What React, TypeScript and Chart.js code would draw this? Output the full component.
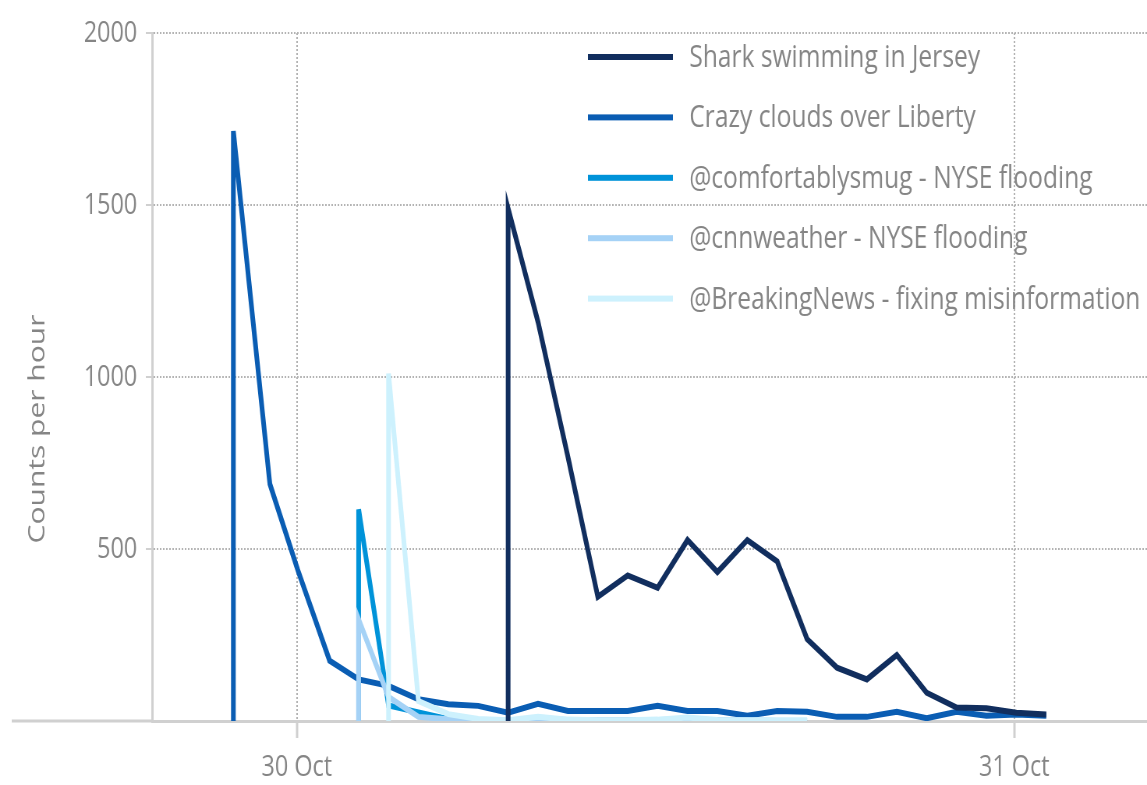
import React, { useEffect, useRef } from 'react';
import { Chart, registerables } from 'chart.js';

Chart.register(...registerables);

// ---- page geometry (the original picture is horizontally squeezed) ----
const FULL_W = 1147;
const FULL_H = 785;
const INNER_W = 1471;
const SQUEEZE = FULL_W / INNER_W;

const FONT = '"Open Sans", "DejaVu Sans", sans-serif';
const TEXT_COLOR = '#858585';
const AXIS_COLOR = '#d0d0d0';
const GRID_COLOR = '#b3b3b3';

// ---- data ----
const seriesNames = [
  'Shark swimming in Jersey',
  'Crazy clouds over Liberty',
  '@comfortablysmug - NYSE flooding',
  '@cnnweather - NYSE flooding',
  '@BreakingNews - fixing misinformation',
];
const seriesColors = ['#112e5e', '#0a5db3', '#0093d9', '#a5d2f6', '#cdf1fd'];

// hours since 30 Oct 00:00
const sharkHours = [7.07, 7.07, 8.07, 9.07, 10.07, 11.07, 12.07, 13.07, 14.07, 15.07, 16.07, 17.07, 18.07, 19.07, 20.07, 21.07, 22.07, 23.07, 24.07, 25.07];
const sharkCounts = [0, 1490, 1160, 768, 361, 423, 387, 526, 433, 526, 464, 238, 155, 121, 192, 82, 39, 37, 24, 19];

const cloudsHours = [-2.12, -2.12, -0.9, 0.03, 1.1, 2.07, 3.07, 4.07, 5.07, 6.07, 7.07, 8.07, 9.07, 10.07, 11.07, 12.07, 13.07, 14.07, 15.07, 16.07, 17.07, 18.07, 19.07, 20.07, 21.07, 22.07, 23.07, 24.07, 25.07];
const cloudsCounts = [0, 1715, 689, 440, 175, 121, 102, 63, 49, 44, 24, 50, 29, 29, 29, 44, 29, 29, 15, 29, 27, 12, 12, 27, 8, 27, 15, 19, 15];

const smugHours = [2.07, 2.07, 3.07, 4.07, 5.07, 6.07, 7.07, 8.07, 9.07, 10.07, 11.07, 12.07, 13.07, 14.07, 15.07, 16.07, 17.07];
const smugCounts = [0, 615, 45, 25, 5, 2, 0, 5, 2, 1, 1, 2, 3, 1, 1, 0, 0];

const cnnHours = [2.07, 2.07, 3.07, 4.07, 5.07, 6.07, 7.07, 8.07, 9.07, 10.07, 11.07, 12.07, 13.07, 14.07, 15.07, 16.07, 17.07];
const cnnCounts = [0, 295, 70, 12, 5, 2, 0, 8, 3, 2, 2, 3, 5, 2, 2, 0, 0];

const newsHours = [3.07, 3.07, 4.07, 5.07, 6.07, 7.07, 8.07, 9.07, 10.07, 11.07, 12.07, 13.07, 14.07, 15.07, 16.07, 17.07];
const newsCounts = [0, 1010, 58, 20, 6, 2, 12, 4, 2, 2, 4, 10, 3, 2, 2, 2];

const seriesHours = [sharkHours, cloudsHours, smugHours, cnnHours, newsHours];
const seriesCounts = [sharkCounts, cloudsCounts, smugCounts, cnnCounts, newsCounts];
const drawOrder = [0, 4, 3, 2, 1];

const xTickHours = [0, 24];
const xTickLabels = ['30 Oct', '31 Oct'];
const xMin = -4.84;
const xMax = 28.44;
const yMin = 0;
const yMax = 2000;
const yStep = 500;
const yTitle = 'Counts per hour';

// ---- plugins ----
const axisExtension = {
  id: 'axisExtension',
  beforeDatasetsDraw(chart: any) {
    const { ctx, chartArea, scales } = chart;
    const y = scales.y.getPixelForValue(0);
    ctx.save();
    ctx.strokeStyle = AXIS_COLOR;
    ctx.lineWidth = 3;
    ctx.beginPath();
    ctx.moveTo(15, y);
    ctx.lineTo(chartArea.left, y);
    ctx.stroke();
    ctx.restore();
  },
};

const yTitlePlugin = {
  id: 'yTitlePlugin',
  afterDraw(chart: any) {
    const { ctx } = chart;
    ctx.save();
    ctx.translate(48, 429);
    ctx.rotate(-Math.PI / 2);
    ctx.font = `30px ${FONT}`;
    ctx.fillStyle = TEXT_COLOR;
    ctx.textAlign = 'center';
    ctx.textBaseline = 'middle';
    ctx.fillText(yTitle, 0, 0);
    ctx.restore();
  },
};

const legendPlugin = {
  id: 'sideLegend',
  afterDatasetsDraw(chart: any) {
    const { ctx } = chart;
    ctx.save();
    chart.data.datasets.forEach((ds: any, i: number) => {
      const y = 57 + i * 60.4;
      ctx.fillStyle = ds.borderColor;
      ctx.fillRect(754, y - 3, 109, 6);
      ctx.font = `31.5px ${FONT}`;
      ctx.fillStyle = TEXT_COLOR;
      ctx.textAlign = 'left';
      ctx.textBaseline = 'middle';
      ctx.fillText(ds.label, 884, y + 1);
    });
    ctx.restore();
  },
};

export default function App() {
  const canvasRef = useRef<HTMLCanvasElement | null>(null);

  useEffect(() => {
    if (!canvasRef.current) return;
    const datasets = seriesNames.map((name, i) => ({
      label: name,
      data: seriesHours[i].map((h, j) => ({ x: h, y: seriesCounts[i][j] })),
      borderColor: seriesColors[i],
      backgroundColor: seriesColors[i],
      borderWidth: 6,
      pointRadius: 0,
      tension: 0,
      fill: false,
      order: drawOrder[i],
    }));

    const chart = new Chart(canvasRef.current, {
      type: 'line',
      data: { datasets },
      options: {
        animation: false,
        responsive: false,
        maintainAspectRatio: false,
        devicePixelRatio: 1,
        layout: { padding: { top: 33, left: 0, right: 0, bottom: 0 } },
        plugins: {
          legend: { display: false },
          tooltip: { enabled: false },
        },
        scales: {
          x: {
            type: 'linear',
            min: xMin,
            max: xMax,
            afterBuildTicks: (scale: any) => {
              scale.ticks = xTickHours.map((v) => ({ value: v }));
            },
            afterFit: (scale: any) => {
              scale.height = 64;
            },
            ticks: {
              autoSkip: false,
              maxRotation: 0,
              padding: 11,
              color: TEXT_COLOR,
              font: { family: FONT, size: 30 },
              callback: (v: any) => {
                const idx = xTickHours.indexOf(Number(v));
                return idx >= 0 ? xTickLabels[idx] : '';
              },
            },
            grid: {
              color: GRID_COLOR,
              lineWidth: 2,
              tickLength: 17,
              tickColor: AXIS_COLOR,
              tickWidth: 3,
            },
            border: { display: true, color: AXIS_COLOR, width: 3, dash: [2, 2] },
          },
          y: {
            min: yMin,
            max: yMax,
            afterFit: (scale: any) => {
              scale.width = 195;
            },
            ticks: {
              stepSize: yStep,
              padding: 11,
              color: TEXT_COLOR,
              font: { family: FONT, size: 30 },
              callback: (v: any) => (Number(v) === 0 ? '' : String(v)),
            },
            grid: {
              color: (c: any) => (c.tick && c.tick.value === 0 ? 'rgba(0,0,0,0)' : GRID_COLOR),
              lineWidth: 2,
              tickLength: 8,
              tickColor: AXIS_COLOR,
              tickWidth: 2,
            },
            border: { display: true, color: AXIS_COLOR, width: 3, dash: [2, 2] },
          },
        },
      },
      plugins: [axisExtension, yTitlePlugin, legendPlugin],
    } as any);

    return () => chart.destroy();
  }, []);

  return (
    <div
      style={{
        position: 'absolute',
        left: 0,
        top: 0,
        width: FULL_W,
        height: FULL_H,
        overflow: 'hidden',
        background: '#ffffff',
      }}
    >
      <div
        style={{
          width: INNER_W,
          height: FULL_H,
          transform: `scaleX(${SQUEEZE})`,
          transformOrigin: '0 0',
        }}
      >
        <canvas
          ref={canvasRef}
          width={INNER_W}
          height={FULL_H}
          style={{ width: INNER_W, height: FULL_H, display: 'block' }}
        />
      </div>
    </div>
  );
}
